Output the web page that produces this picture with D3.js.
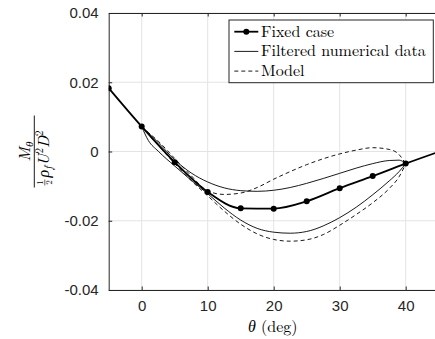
<!DOCTYPE html>
<html>
<head>
<meta charset="utf-8">
<script src="https://cdn.jsdelivr.net/npm/d3@7"></script>
<style>
  body { margin: 0; background: #fff; }
  svg { display: block; }
</style>
</head>
<body>
<div id="chart"></div>
<script>
// fixed case: markers every 5 deg
const fixedTheta = [-5, 0, 5, 10, 15, 20, 25, 30, 35, 40, 45];
const fixedM = [0.0183, 0.0072, -0.0031, -0.0117, -0.0164, -0.0165, -0.0144, -0.0106, -0.0071, -0.0035, -0.0001];

// hysteresis loops (0..40 deg), two branches each
const loopTheta = [0, 1, 2.5, 5, 7.5, 10, 12.5, 15, 17.5, 20, 22.5, 25, 27.5, 30, 32.5, 35, 37.5, 39, 40];
const filteredUpper = [0.0072, 0.0054, 0.0026, -0.0024, -0.0062, -0.0088, -0.0105, -0.0113, -0.0115, -0.0112, -0.0104, -0.0092, -0.0078, -0.0063, -0.0048, -0.0035, -0.0026, -0.0025, -0.0035];
const filteredLower = [0.0072, 0.0032, 0.0001, -0.0042, -0.0083, -0.0122, -0.0163, -0.0198, -0.0222, -0.0233, -0.0236, -0.0231, -0.0215, -0.0191, -0.0161, -0.0125, -0.0085, -0.0058, -0.0035];
const modelUpper = [0.0072, 0.0055, 0.0030, -0.0020, -0.0070, -0.0114, -0.0124, -0.0120, -0.0104, -0.0080, -0.0058, -0.0038, -0.0021, -0.0007, 0.0004, 0.0011, 0.0006, -0.0009, -0.0036];
const modelLower = [0.0072, 0.0050, 0.0018, -0.0035, -0.0084, -0.0128, -0.0172, -0.0210, -0.0238, -0.0254, -0.0259, -0.0255, -0.0240, -0.0213, -0.0182, -0.0148, -0.0107, -0.0073, -0.0036];

const xTicks = [0, 10, 20, 30, 40];
const yTicks = [-0.04, -0.02, 0, 0.02, 0.04];
const yTickLabels = ['-0.04', '-0.02', '0', '0.02', '0.04'];
const legendLabels = ['Fixed case', 'Filtered numerical data', 'Model'];

const W = 435, H = 339;
const margin = { top: 13, left: 108.7 };
const width = 330, height = 277;
const axisColor = '#262626';

const svg = d3.select('#chart').append('svg')
  .attr('width', W)
  .attr('height', H);

const x = d3.scaleLinear().domain([-5, 45]).range([0, width]);
const y = d3.scaleLinear().domain([-0.04, 0.04]).range([height, 0]);

const chart = svg.append('g')
  .attr('transform', `translate(${margin.left},${margin.top})`);

chart.append('clipPath').attr('id', 'clip')
  .append('rect').attr('width', width).attr('height', height);

// grid
chart.append('g').selectAll('line').data(xTicks).enter().append('line')
  .attr('x1', d => x(d)).attr('x2', d => x(d))
  .attr('y1', 0).attr('y2', height)
  .attr('stroke', '#e3e3e3').attr('stroke-width', 1);
chart.append('g').selectAll('line').data(yTicks).enter().append('line')
  .attr('x1', 0).attr('x2', width)
  .attr('y1', d => y(d)).attr('y2', d => y(d))
  .attr('stroke', '#e3e3e3').attr('stroke-width', 1);

// axes (ticks inward, box)
let xAxis = d3.axisBottom(x).tickValues(xTicks).tickSizeInner(-3.5).tickSizeOuter(0).tickPadding(10);
let xAxisTop = d3.axisTop(x).tickValues(xTicks).tickSizeInner(-3.5).tickSizeOuter(0).tickFormat('');
let yAxis = d3.axisLeft(y).tickValues(yTicks).tickSizeInner(-3.5).tickSizeOuter(0).tickPadding(10)
  .tickFormat((d, i) => yTickLabels[i]);

const styleAxis = g => {
  g.select('.domain').attr('stroke', axisColor);
  g.selectAll('.tick line').attr('stroke', axisColor);
  g.selectAll('.tick text')
    .attr('fill', axisColor)
    .style('font-family', '"Liberation Sans", Arial, sans-serif')
    .style('font-size', '15px');
};

chart.append('g').attr('transform', `translate(0,${height})`).call(xAxis).call(styleAxis);
chart.append('g').call(xAxisTop).call(styleAxis);
chart.append('g').call(yAxis).call(styleAxis);

// data lines
const plot = chart.append('g').attr('clip-path', 'url(#clip)');

const line = d3.line()
  .x(d => x(d[0]))
  .y(d => y(d[1]))
  .curve(d3.curveMonotoneX);

const branches = [
  { v: filteredUpper, dash: null },
  { v: filteredLower, dash: null },
  { v: modelUpper, dash: '4,3' },
  { v: modelLower, dash: '4,3' }
];

branches.forEach(b => {
  plot.append('path')
    .datum(loopTheta.map((t, i) => [t, b.v[i]]))
    .attr('d', line)
    .attr('fill', 'none')
    .attr('stroke', '#000')
    .attr('stroke-width', 0.9)
    .attr('stroke-dasharray', b.dash);
});

const fixedData = fixedTheta.map((t, i) => [t, fixedM[i]]);
plot.append('path')
  .datum(fixedData)
  .attr('d', line)
  .attr('fill', 'none')
  .attr('stroke', '#000')
  .attr('stroke-width', 1.8);

plot.selectAll('circle').data(fixedData).enter().append('circle')
  .attr('cx', d => x(d[0]))
  .attr('cy', d => y(d[1]))
  .attr('r', 3)
  .attr('fill', '#000');

// legend
const serif = '"Latin Modern Roman", "Liberation Serif", "DejaVu Serif", serif';
const legend = svg.append('g').attr('transform', 'translate(229,20)');
legend.append('rect')
  .attr('width', 204.3).attr('height', 62.7)
  .attr('fill', '#fff').attr('stroke', axisColor).attr('stroke-width', 1);

const legendDash = [null, null, '4,3'];
const legendWidth = [1.8, 0.9, 0.9];
legendLabels.forEach((lab, i) => {
  const cy = 11.7 + i * 19.7;
  legend.append('line')
    .attr('x1', 5.3).attr('x2', 29.3)
    .attr('y1', cy).attr('y2', cy)
    .attr('stroke', '#000')
    .attr('stroke-width', legendWidth[i])
    .attr('stroke-dasharray', legendDash[i]);
  if (i === 0) {
    legend.append('circle').attr('cx', 17.3).attr('cy', cy).attr('r', 3).attr('fill', '#000');
  }
  legend.append('text')
    .attr('x', 32).attr('y', cy + 5)
    .style('font-family', serif)
    .style('font-size', '16px')
    .attr('fill', '#000')
    .text(lab);
});

// x label
svg.append('text')
  .attr('x', margin.left + width / 2 - 1)
  .attr('y', 332)
  .attr('text-anchor', 'middle')
  .style('font-family', serif)
  .style('font-size', '16px')
  .html('<tspan font-style="italic">θ</tspan> (deg)');

// y label: fraction M_theta / (1/2 rho_f U^2 D^2)
const yl = svg.append('g')
  .attr('transform', `translate(34.3,${margin.top + height / 2}) rotate(-90)`)
  .style('font-family', serif)
  .attr('fill', '#000');

yl.append('line')
  .attr('x1', -36).attr('x2', 36)
  .attr('y1', 0).attr('y2', 0)
  .attr('stroke', '#000').attr('stroke-width', 0.9);

yl.append('text')
  .attr('x', 0).attr('y', -4)
  .attr('text-anchor', 'middle')
  .style('font-size', '16px')
  .html('<tspan font-style="italic">M</tspan><tspan font-style="italic" font-size="11px" dy="3">θ</tspan>');

// small 1/2
yl.append('text').attr('x', -31).attr('y', 8.5).attr('text-anchor', 'middle')
  .style('font-size', '9px').text('1');
yl.append('line').attr('x1', -34).attr('x2', -28).attr('y1', 10.5).attr('y2', 10.5)
  .attr('stroke', '#000').attr('stroke-width', 0.6);
yl.append('text').attr('x', -31).attr('y', 18).attr('text-anchor', 'middle')
  .style('font-size', '9px').text('2');

yl.append('text')
  .attr('x', -26).attr('y', 15)
  .style('font-size', '16px')
  .html('<tspan font-style="italic">ρ</tspan><tspan font-style="italic" font-size="11px" dy="3">f</tspan>' +
        '<tspan font-style="italic" dy="-3" dx="1">U</tspan><tspan font-size="11px" dy="-6">2</tspan>' +
        '<tspan font-style="italic" dy="6">D</tspan><tspan font-size="11px" dy="-6">2</tspan>');
</script>
</body>
</html>
